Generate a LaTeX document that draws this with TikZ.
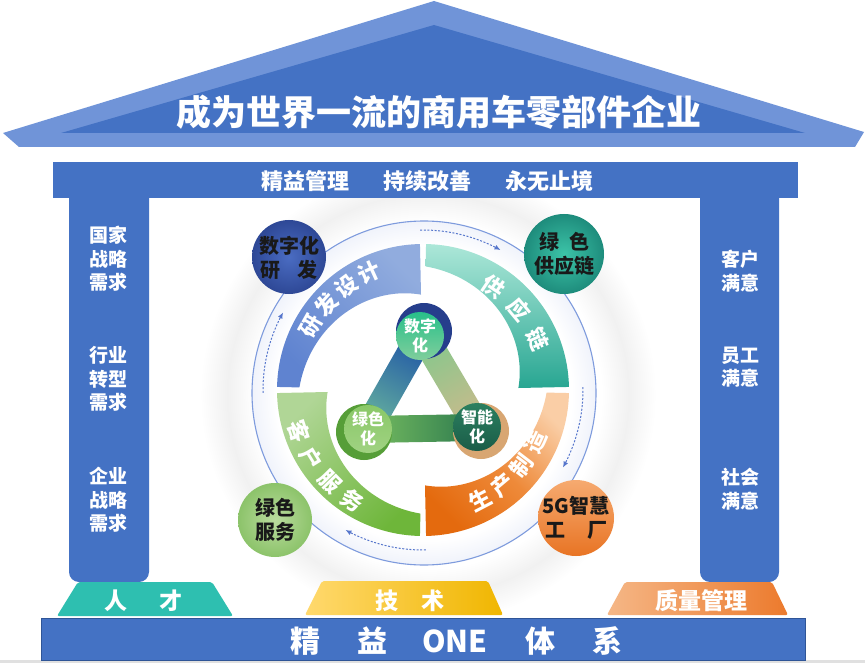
\documentclass[tikz,border=0pt]{standalone}
\usepackage{fontspec}
\setmainfont{Noto Sans CJK SC}
\usetikzlibrary{arrows.meta}
\definecolor{mainblue}{HTML}{4472C4}
\definecolor{roofout}{HTML}{7094D8}
\definecolor{basedraw}{HTML}{2F5597}
\definecolor{ringline}{HTML}{7E9BDD}
\definecolor{dashblue}{HTML}{5676CC}
\definecolor{ringtint}{HTML}{F0F3FB}
\definecolor{glowgray}{HTML}{F1F1F1}
\definecolor{talentteal}{HTML}{2EBFB0}
\definecolor{dignavy}{RGB}{38,62,140}
\definecolor{greenrim}{RGB}{86,158,56}
\definecolor{tanrim}{RGB}{216,166,114}
\pgfdeclareradialshading{glowring}{\pgfpoint{0bp}{0bp}}{color(0bp)=(white); color(19bp)=(white); color(22bp)=(glowgray); color(25bp)=(white); color(50bp)=(white)}
\pgfdeclareradialshading{ringfill}{\pgfpoint{0bp}{0bp}}{color(0bp)=(white); color(21.5bp)=(white); color(25bp)=(ringtint); color(50bp)=(ringtint)}
\newcommand\myfs[2]{\fontsize{#1}{#2}\selectfont\bfseries}
\begin{document}
\begin{tikzpicture}[x=1pt,y=-1pt,
  wtxt/.style={text=white, inner sep=0pt, align=center},
  ktxt/.style={text=black!90, inner sep=0pt, align=center, font=\myfs{20}{24}},
  piltxt/.style={wtxt, font=\myfs{19}{23.5}},
  arctxt/.style={wtxt, font=\myfs{22}{22}},
  ctxt/.style={wtxt, font=\myfs{16}{19}},
  dasharc/.style={dashblue, line width=1pt, dash pattern=on 2pt off 1.6pt, -{Latex[length=6pt,width=5pt]}}
]
\useasboundingbox (0,0) rectangle (865,663);
\fill[white] (0,0) rectangle (865,663);
% glow behind the wheel
\shade[shading=glowring] (428,395) circle[radius=228];
% roof
\fill[roofout] (434,1) -- (864,132) -- (855,147) -- (19,147) -- (3,133) -- cycle;
\fill[mainblue] (434,25) -- (805,133) -- (61,133) -- cycle;
\node[wtxt, font=\myfs{35}{35}] (title) at (439,112) {成为世界一流的商用车零部件企业};
% beam and pillars
\fill[mainblue] (53,162) rectangle (798,198);
\fill[mainblue] (69,190) [rounded corners=10pt] -- (69,582) -- (149,582) [sharp corners] -- (149,190) -- cycle;
\fill[mainblue] (700,190) [rounded corners=10pt] -- (700,582) -- (779,582) [sharp corners] -- (779,190) -- cycle;
\node[wtxt, font=\myfs{22}{22}] (bt1) at (305,181) {精益管理};
\node[wtxt, font=\myfs{22}{22}] (bt2) at (427,181) {持续改善};
\node[wtxt, font=\myfs{22}{22}] (bt3) at (549,181) {永无止境};
\node[piltxt] (lp1) at (108,259) {国家\\战略\\需求};
\node[piltxt] (lp2) at (108,379) {行业\\转型\\需求};
\node[piltxt] (lp3) at (108,500) {企业\\战略\\需求};
\node[piltxt] (rp1) at (740,271) {客户\\满意};
\node[piltxt] (rp2) at (740,367) {员工\\满意};
\node[piltxt] (rp3) at (740,489) {社会\\满意};
% foundations
\fill[talentteal, rounded corners=2pt] (78,582) -- (212,582) -- (233,616) -- (57,616) -- cycle;
\shade[left color={rgb,255:red,255;green,217;blue,110}, right color={rgb,255:red,240;green,182;blue,0}, rounded corners=2pt] (322,581) -- (488,581) -- (503,615) -- (305,615) -- cycle;
\shade[left color={rgb,255:red,245;green,183;blue,135}, right color={rgb,255:red,236;green,122;blue,44}, rounded corners=2pt] (625,582) -- (772,582) -- (788,615) -- (607,615) -- cycle;
\node[wtxt, font=\myfs{23}{23}] (f1) at (143.5,601) {人\hspace{1.4em}才};
\node[wtxt, font=\myfs{23}{23}] (f2) at (410,601) {技\hspace{1em}术};
\node[wtxt, font=\myfs{23}{23}] (f3) at (701,601) {质量管理};
\fill[black!12] (0,660) rectangle (865,663);
\filldraw[fill=mainblue, draw=basedraw, line width=1pt] (41,618) rectangle (805,660);
\node[wtxt, font=\myfs{30}{30}] (b1) at (305,641) {精};
\node[wtxt, font=\myfs{30}{30}] (b2) at (372,641) {益};
\node[wtxt, font=\myfs{30}{30}] (b3) at (455,641) {ONE};
\node[wtxt, font=\myfs{30}{30}] (b4) at (540,641) {体};
\node[wtxt, font=\myfs{30}{30}] (b5) at (607,641) {系};
% wheel ring
\shade[shading=ringfill] (424,393) circle[radius=172];
\draw[ringline, line width=1.1pt] (424,393) circle[radius=172];
\draw[dasharc] plot[domain=91:61, samples=30] ({423+160*cos(\x)},{390-160*sin(\x)});
\draw[dasharc] plot[domain=1:-29, samples=30] ({423+160*cos(\x)},{390-160*sin(\x)});
\draw[dasharc] plot[domain=-89:-119, samples=30] ({423+160*cos(\x)},{390-160*sin(\x)});
\draw[dasharc] plot[domain=181:151, samples=30] ({423+160*cos(\x)},{390-160*sin(\x)});
% four bands
\shade[top color={rgb,255:red,145;green,172;blue,222}, bottom color={rgb,255:red,95;green,131;blue,208}, shading angle=-45]
  plot[domain=178.8:91.2, samples=60] ({423+146*cos(\x)},{390-146*sin(\x)})
  -- plot[domain=91.2:178.8, samples=60] ({423+(95+29*(\x-90)/90)*cos(\x)},{390-(95+29*(\x-90)/90)*sin(\x)}) -- cycle;
\shade[top color={rgb,255:red,172;green,231;blue,216}, bottom color={rgb,255:red,40;green,166;blue,146}]
  plot[domain=88.8:1.2, samples=60] ({423+146*cos(\x)},{390-146*sin(\x)})
  -- plot[domain=1.2:88.8, samples=60] ({423+(95+29*(\x)/90)*cos(\x)},{390-(95+29*(\x)/90)*sin(\x)}) -- cycle;
\shade[top color={rgb,255:red,250;green,206;blue,166}, bottom color={rgb,255:red,228;green,106;blue,14}, middle color={rgb,255:red,238;green,138;blue,58}, shading angle=-45]
  plot[domain=-1.2:-88.8, samples=60] ({423+146*cos(\x)},{390-146*sin(\x)})
  -- plot[domain=-88.8:-1.2, samples=60] ({423+(95+29*(\x+90)/90)*cos(\x)},{390-(95+29*(\x+90)/90)*sin(\x)}) -- cycle;
\shade[top color={rgb,255:red,176;green,214;blue,150}, bottom color={rgb,255:red,110;green,182;blue,58}, shading angle=45]
  plot[domain=-91.2:-178.8, samples=60] ({423+146*cos(\x)},{390-146*sin(\x)})
  -- plot[domain=-178.8:-91.2, samples=60] ({423+(95+29*(\x+180)/90)*cos(\x)},{390-(95+29*(\x+180)/90)*sin(\x)}) -- cycle;
% band labels
\foreach \a/\c [count=\i] in {150.5/研,138.5/发,126.5/设,114.5/计}
  \node[arctxt, rotate=\a-90] (rd\i) at ({423+129*cos(\a)},{390-129*sin(\a)}) {\c};
\foreach \a/\c [count=\i] in {56/供,40/应,24/链}
  \node[arctxt, rotate=\a-90] (sc\i) at ({423+125*cos(\a)},{390-125*sin(\a)}) {\c};
\foreach \a/\c [count=\i] in {-62.5/生,-50/产,-37.5/制,-25/造}
  \node[arctxt, rotate=\a+90] (pm\i) at ({423+124*cos(\a)},{390-124*sin(\a)}) {\c};
\foreach \a/\c [count=\i] in {198.5/客,211.5/户,224.5/服,237.5/务}
  \node[arctxt, rotate=\a+90] (cs\i) at ({423+131*cos(\a)},{390-131*sin(\a)}) {\c};
% corner circles
\shade[inner color={rgb,255:red,74;green,108;blue,194}, outer color={rgb,255:red,46;green,72;blue,150}] (289,257) circle[radius=37];
\shade[inner color={rgb,255:red,60;green,196;blue,168}, outer color={rgb,255:red,30;green,140;blue,124}] (564,254) circle[radius=40];
\shade[inner color={rgb,255:red,186;green,220;blue,158}, outer color={rgb,255:red,140;green,195;blue,106}] (275,520) circle[radius=37];
\shade[top color={rgb,255:red,246;green,170;blue,112}, bottom color={rgb,255:red,232;green,116;blue,36}] (576,518) circle[radius=38];
\node[ktxt] (cc1) at (289,258) {数字化\\研\hspace{0.85em}发};
\node[ktxt] (cc2) at (564,254) {绿\hspace{0.5em}色\\供应链};
\node[ktxt] (cc3) at (275,520) {绿色\\服务};
\node[ktxt] (cc4) at (576,518) {5G智慧\\工\hspace{1.1em}厂};
% central triangle bars
\shade[top color={rgb,255:red,30;green,84;blue,166}, bottom color={rgb,255:red,104;green,180;blue,158}, shading angle=-30]
  (434,340) -- (410,326) -- (355,423) -- (379,437) -- cycle;
\shade[top color={rgb,255:red,130;green,200;blue,140}, bottom color={rgb,255:red,204;green,186;blue,140}, shading angle=30]
  (434,326) -- (490,421) -- (466,435) -- (410,340) -- cycle;
\shade[left color={rgb,255:red,118;green,188;blue,96}, right color={rgb,255:red,44;green,122;blue,78}]
  (367,416) -- (478,414) -- (478,441) -- (367,443) -- cycle;
% central circles
\fill[dignavy] (424,331) circle[radius=28];
\shade[top color={rgb,255:red,40;green,192;blue,138}, bottom color={rgb,255:red,128;green,206;blue,156}] (420,336) circle[radius=24];
\fill[greenrim] (364,432) circle[radius=28];
\shade[top color={rgb,255:red,138;green,200;blue,104}, bottom color={rgb,255:red,160;green,210;blue,130}] (368,429) circle[radius=24];
\fill[tanrim] (481,431) circle[radius=28];
\shade[top color={rgb,255:red,44;green,128;blue,96}, bottom color={rgb,255:red,26;green,92;blue,72}] (477,427) circle[radius=24];
\node[ctxt] (m1) at (420,336) {数字\\化};
\node[ctxt] (m2) at (368,429) {绿色\\化};
\node[ctxt] (m3) at (477,427) {智能\\化};
\end{tikzpicture}
\end{document}
